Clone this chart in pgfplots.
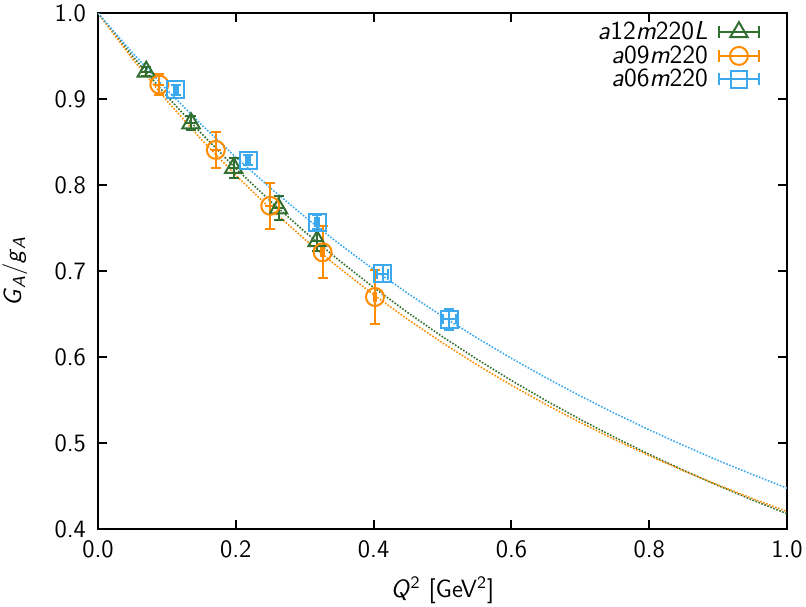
\documentclass[border=0pt]{standalone}
\usepackage{pgfplots}
\pgfplotsset{compat=1.18}
\usepackage{pgfplotstable}
\renewcommand{\familydefault}{\sfdefault}

\definecolor{cgreen}{RGB}{50,112,50}
\definecolor{corange}{RGB}{255,140,0}
\definecolor{cblue}{RGB}{60,168,238}

% lattice points: x, y, x error, y error
\pgfplotstableread{
x     y     ex    ey
0.070 0.932 0.000 0.005
0.135 0.872 0.000 0.008
0.197 0.820 0.000 0.012
0.262 0.773 0.000 0.014
0.318 0.735 0.000 0.012
}\datagreen
\pgfplotstableread{
x     y     ex    ey
0.089 0.917 0.000 0.012
0.171 0.841 0.000 0.021
0.250 0.776 0.000 0.027
0.326 0.722 0.002 0.030
0.402 0.670 0.002 0.031
}\dataorange
\pgfplotstableread{
x     y     ex    ey
0.113 0.911 0.003 0.006
0.218 0.829 0.003 0.006
0.318 0.757 0.003 0.008
0.413 0.697 0.008 0.010
0.510 0.644 0.009 0.012
}\datablue

% fitted curves, tabulated
\pgfplotstableread{
x    g       o       b
0.00 1.00000 1.00000 1.00000
0.05 0.95013 0.94698 0.95397
0.10 0.90362 0.89817 0.91087
0.15 0.86019 0.85315 0.87047
0.20 0.81958 0.81150 0.83255
0.25 0.78157 0.77292 0.79692
0.30 0.74595 0.73709 0.76340
0.35 0.71252 0.70376 0.73183
0.40 0.68113 0.67270 0.70207
0.45 0.65160 0.64371 0.67400
0.50 0.62381 0.61660 0.64747
0.55 0.59763 0.59121 0.62240
0.60 0.57294 0.56740 0.59867
0.65 0.54962 0.54503 0.57620
0.70 0.52760 0.52400 0.55490
0.75 0.50678 0.50419 0.53470
0.80 0.48707 0.48552 0.51552
0.85 0.46840 0.46789 0.49729
0.90 0.45071 0.45123 0.47996
0.95 0.43392 0.43547 0.46346
1.00 0.41798 0.42054 0.44776
}\fits

\pgfplotsset{
  errsample/.style={
    legend image code/.code={
      \path (0pt,0pt);
      \draw[line width=1pt] (3pt,0pt) -- (23pt,0pt);
      \draw[line width=1pt] (3pt,-3pt) -- (3pt,3pt);
      \draw[line width=1pt] (23pt,-3pt) -- (23pt,3pt);
      \draw[line width=1pt,#1] plot coordinates {(13pt,0pt)};
    }
  },
  pts/.style={
    only marks, line width=1pt,
    error bars/x dir=both, error bars/x explicit,
    error bars/y dir=both, error bars/y explicit,
    error bars/error bar style={line width=1pt},
    error bars/error mark options={rotate=90, line width=1pt, mark size=2.5pt},
  },
  fit/.style={dash pattern=on 0.8pt off 0.8pt, line width=0.8pt, forget plot},
}

\begin{document}
\begin{tikzpicture}
\begin{axis}[
  name=ax,
  scale only axis,
  width=344.5pt, height=258pt,
  xmin=0, xmax=1, ymin=0.4, ymax=1,
  xtick={0,0.2,...,1.0}, ytick={0.4,0.5,...,1.0},
  xticklabel style={yshift=-2pt, /pgf/number format/.cd, fixed, fixed zerofill, precision=1},
  yticklabel style={xshift=-2.5pt, /pgf/number format/.cd, fixed, fixed zerofill, precision=1},
  /pgf/number format/assume math mode=true,
  ticklabel style={font=\fontsize{12.5}{14}\selectfont},
  tick align=inside, major tick length=4.5pt,
  axis line style={line width=1pt},
  every tick/.style={line width=1pt, black},
  every axis x label/.style={at={(rel axis cs:0.5,0)}, yshift=-30.5pt, anchor=center,
    font=\fontsize{12.5}{14}\selectfont},
  every axis y label/.style={at={(rel axis cs:0,0.5)}, xshift=-41.5pt, rotate=90, anchor=center,
    font=\fontsize{12.5}{14}\selectfont},
  xlabel={\textit{Q}\textsuperscript{2} [GeV\textsuperscript{2}]},
  ylabel={\textit{G}\textsubscript{\textit{A}}/\textit{g}\textsubscript{\textit{A}}},
  legend style={draw=none, fill=none, at={(0.97,1.0)}, anchor=north east,
    font=\fontsize{13}{14}\selectfont, row sep=-2.5pt},
  legend cell align=right,
  legend plot pos=right,
]
\addplot[cgreen, fit] table[x=x,y=g] {\fits};
\addplot[corange, fit] table[x=x,y=o] {\fits};
\addplot[cblue, fit] table[x=x,y=b] {\fits};

\addplot[cgreen, pts, mark=triangle, mark size=5pt, errsample={mark=triangle, mark size=5pt}]
  table[x=x, y=y, x error=ex, y error=ey] {\datagreen};
\addlegendentry{\textit{a}12\textit{m}220\textit{L}}
\addplot[corange, pts, mark=o, mark size=4.5pt, errsample={mark=o, mark size=4.5pt}]
  table[x=x, y=y, x error=ex, y error=ey] {\dataorange};
\addlegendentry{\textit{a}09\textit{m}220}
\addplot[cblue, pts, mark=square, mark size=4.2pt, errsample={mark=square, mark size=4.2pt}]
  table[x=x, y=y, x error=ex, y error=ey] {\datablue};
\addlegendentry{\textit{a}06\textit{m}220}
\end{axis}
\pgfresetboundingbox
\path[use as bounding box] ([xshift=-49pt,yshift=-38.5pt]ax.south west)
  rectangle ([xshift=9.5pt,yshift=6.6pt]ax.north east);
\end{tikzpicture}
\end{document}
